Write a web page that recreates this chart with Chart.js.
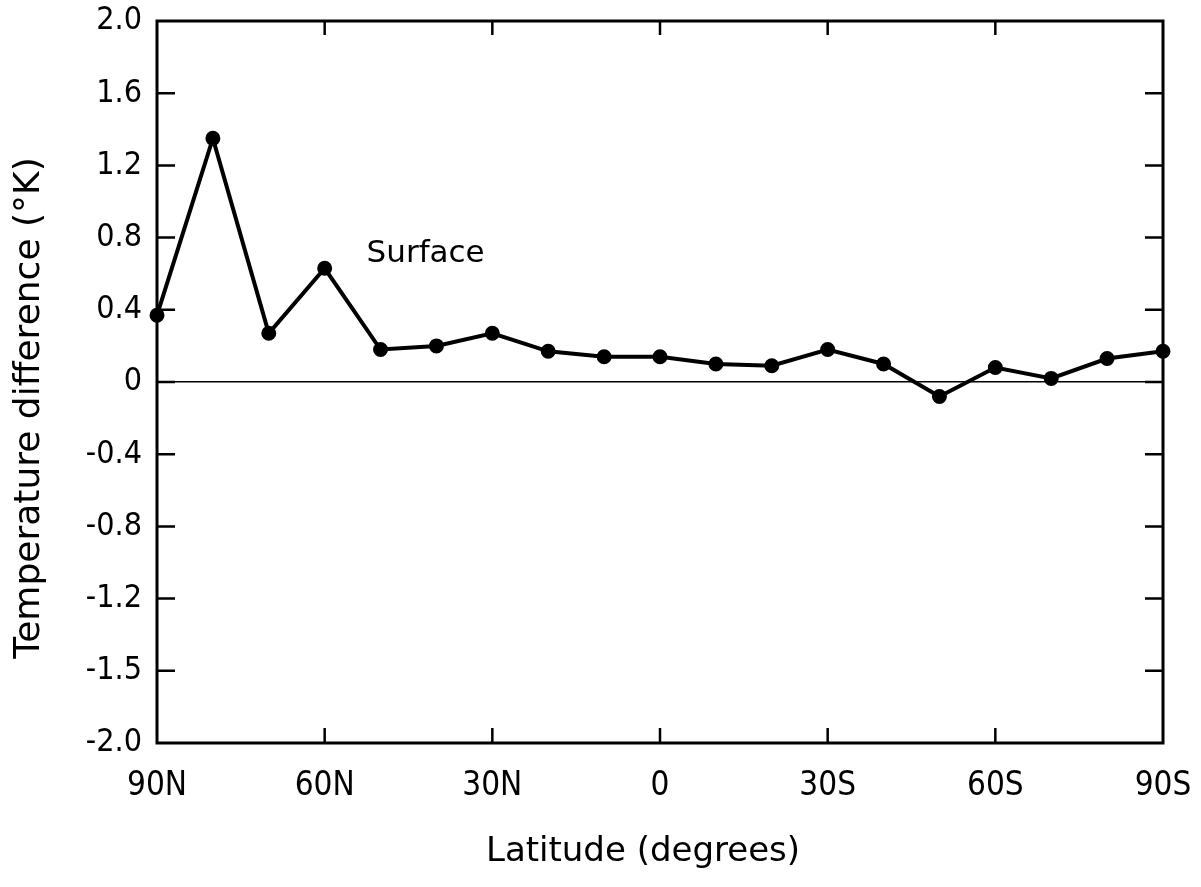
<!DOCTYPE html>
<html>
<head>
<meta charset="utf-8">
<script src="https://cdn.jsdelivr.net/npm/chart.js@4.4.1/dist/chart.umd.min.js"></script>
<style>
    body { margin: 0; background: #fff; }
    #wrap { width: 1201px; height: 887px; position: relative; }
</style>
</head>
<body>
<div id="wrap"><canvas id="tempChart"></canvas></div>
<script>
// latitude in degrees, north positive
const latitudes = [90, 80, 70, 60, 50, 40, 30, 20, 10, 0, -10, -20, -30, -40, -50, -60, -70, -80, -90];
const surfaceDiff = [0.37, 1.35, 0.27, 0.63, 0.18, 0.20, 0.27, 0.17, 0.14, 0.14, 0.10, 0.09, 0.18, 0.10, -0.08, 0.08, 0.02, 0.13, 0.17];

const xTickValues = [90, 60, 30, 0, -30, -60, -90];
const xTickLabels = ['90N', '60N', '30N', '0', '30S', '60S', '90S'];
const yTickValues = [2.0, 1.6, 1.2, 0.8, 0.4, 0, -0.4, -0.8, -1.2, -1.6, -2.0];
const yTickLabels = ['2.0', '1.6', '1.2', '0.8', '0.4', '0', '-0.4', '-0.8', '-1.2', '-1.5', '-2.0'];

const xTitle = 'Latitude (degrees)';
const yTitle = 'Temperature difference (°K)';

const tickFont = '"Liberation Sans Narrow", "DejaVu Sans Condensed", "Arial Narrow", sans-serif';
const titleFont = '"DejaVu Sans", sans-serif';

// frame, inward tick marks, axis titles and the series label
const framePlugin = {
    id: 'frame',
    afterDraw(chart) {
        const { ctx, chartArea: a, scales } = chart;
        const x = scales.x, y = scales.y;
        ctx.save();
        ctx.strokeStyle = '#000';
        ctx.lineWidth = 3;
        ctx.strokeRect(a.left, a.top, a.right - a.left, a.bottom - a.top);

        ctx.lineWidth = 2.5;
        xTickValues.slice(1, -1).forEach(v => {
            const px = x.getPixelForValue(v);
            ctx.beginPath();
            ctx.moveTo(px, a.top); ctx.lineTo(px, a.top + 14);
            ctx.moveTo(px, a.bottom); ctx.lineTo(px, a.bottom - 15);
            ctx.stroke();
        });
        yTickValues.slice(1, -1).forEach(v => {
            const py = y.getPixelForValue(v);
            ctx.beginPath();
            ctx.moveTo(a.left, py); ctx.lineTo(a.left + 18, py);
            ctx.moveTo(a.right, py); ctx.lineTo(a.right - 18, py);
            ctx.stroke();
        });

        ctx.fillStyle = '#000';
        ctx.textBaseline = 'middle';
        ctx.textAlign = 'center';

        ctx.font = '34px ' + titleFont;
        ctx.fillText(xTitle, (a.left + a.right) / 2 - 17, a.bottom + 109);

        ctx.save();
        ctx.translate(30, (a.top + a.bottom) / 2 + 26);
        ctx.rotate(-Math.PI / 2);
        ctx.font = '36px ' + titleFont;
        ctx.fillText(yTitle, 0, 0);
        ctx.restore();

        const o = chart.options.plugins.frame;
        ctx.textAlign = 'left';
        ctx.font = '31px ' + titleFont;
        ctx.fillText(o.text, x.getPixelForValue(o.lat), y.getPixelForValue(o.value));
        ctx.restore();
    }
};

new Chart(document.getElementById('tempChart'), {
    type: 'line',
    data: {
        datasets: [{
            label: 'Surface',
            data: latitudes.map((lat, i) => ({ x: lat, y: surfaceDiff[i] })),
            borderColor: '#000',
            backgroundColor: '#000',
            borderWidth: 4,
            pointRadius: 5.5,
            pointHoverRadius: 5.5,
            tension: 0,
            clip: false
        }]
    },
    options: {
        responsive: true,
        maintainAspectRatio: false,
        animation: false,
        layout: { padding: { left: 0, right: 38, top: 21, bottom: 0 } },
        plugins: {
            legend: { display: false },
            tooltip: { enabled: false },
            frame: { text: 'Surface', lat: 52.5, value: 0.71 }
        },
        scales: {
            x: {
                type: 'linear',
                min: -90, max: 90,
                reverse: true,
                afterBuildTicks: s => { s.ticks = xTickValues.map(v => ({ value: v })); },
                afterFit: s => {
                    s.height = 144;
                    s.paddingLeft = 0;
                    s.paddingRight = 0;
                },
                grid: { display: false },
                border: { display: false },
                ticks: {
                    color: '#000',
                    padding: 16,
                    maxRotation: 0,
                    autoSkip: false,
                    font: { family: tickFont, size: 33 },
                    callback: v => xTickLabels[xTickValues.indexOf(v)]
                }
            },
            y: {
                min: -2, max: 2,
                afterBuildTicks: s => { s.ticks = yTickValues.map(v => ({ value: v })); },
                afterFit: s => {
                    s.width = 157;
                    s.paddingTop = 0;
                    s.paddingBottom = 0;
                },
                grid: {
                    drawTicks: false,
                    lineWidth: 1.5,
                    color: c => (c.tick && c.tick.value === 0 ? '#000' : 'rgba(0,0,0,0)')
                },
                border: { display: false },
                ticks: {
                    color: '#000',
                    padding: 15,
                    font: { family: tickFont, size: 32 },
                    callback: v => yTickLabels[yTickValues.indexOf(v)]
                }
            }
        }
    },
    plugins: [framePlugin]
});
</script>
</body>
</html>
